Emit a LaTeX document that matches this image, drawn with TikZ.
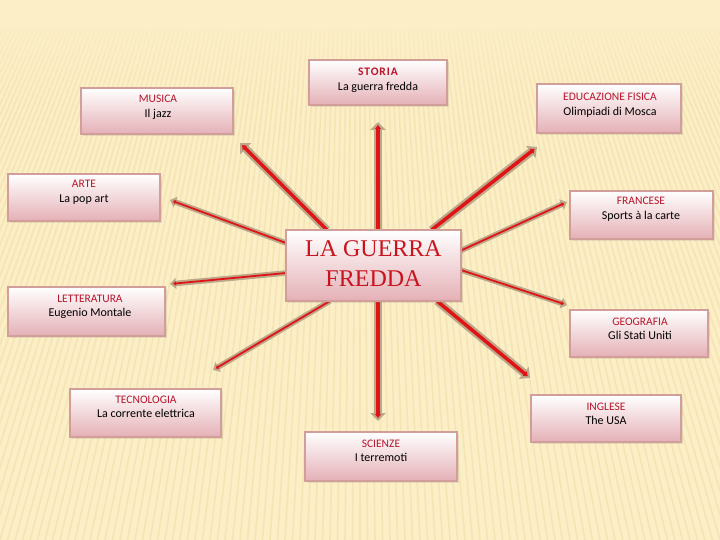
\documentclass[tikz,border=0pt]{standalone}
\usepackage{fontspec}
\setmainfont{Carlito}
\newfontfamily\centralserif{Liberation Serif}
\newfontfamily\spacedtitle[LetterSpace=8]{Carlito}
\usetikzlibrary{arrows.meta,fit,shadows,fadings}
\definecolor{bgcream}{HTML}{FCEEC6}
\definecolor{raycol}{HTML}{EFD89C}
\definecolor{boxborder}{HTML}{D19E9A}
\definecolor{boxpink}{HTML}{E4B0B6}
\definecolor{titlered}{HTML}{B8142A}
\definecolor{bigred}{HTML}{C8141E}
\definecolor{arrowred}{HTML}{E01414}
\definecolor{arrowtan}{HTML}{BCA78A}
\tikzset{
  topic/.style={draw=boxborder, line width=1.8pt, top color=white, bottom color=boxpink,
    inner sep=0pt, outer sep=0pt, drop shadow={opacity=0.18, shadow xshift=2pt, shadow yshift=-2pt}},
  ttl/.style={text=titlered, font=\fontsize{11.5}{13}\selectfont, inner sep=0pt, anchor=base},
  bdy/.style={text=black, font=\fontsize{12}{14}\selectfont, inner sep=0pt, anchor=base},
  thicktan/.style={draw=arrowtan, line width=8pt, -{Triangle[length=8pt 0 0,width=15pt 0 0]}},
  thickred/.style={draw=arrowred, line width=3.5pt, shorten >=3pt, -{Triangle[length=4pt 0 0,width=6pt 0 0]}},
  thintan/.style={draw=arrowtan, line width=5.5pt, -{Triangle[length=6pt 0 0,width=11pt 0 0]}},
  thinred/.style={draw=arrowred, line width=1.8pt, shorten >=3pt, -{Triangle[length=3pt 0 0,width=4pt 0 0]}},
}
\newcommand\connthick[2]{\draw[thicktan] #1 -- #2; \draw[thickred] #1 -- #2;}
\newcommand\connthin[2]{\draw[thintan] #1 -- #2; \draw[thinred] #1 -- #2;}
\newcommand\topicbox[9]{%
  \node[topic, fit={(#2,#3) (#4,#5)}] (#1) {};
  \node[ttl] (#1-t) at (#6,#7) {#8};
  \node[bdy] (#1-b) at (#6,#7+14.5) {#9};
}
\begin{document}
\begin{tikzpicture}[x=1pt,y=-1pt]
\useasboundingbox (0,0) rectangle (720,540);
\fill[bgcream] (0,0) rectangle (720,540);
\begin{scope}
  \clip (0,30) rectangle (720,540);
  \foreach \i in {-110,...,110}
    \draw[raycol, line width=1.6pt, opacity=0.45] (360,-700) -- (360+\i*7.5,540);
\end{scope}
\fill[bgcream, path fading=south] (0,0) rectangle (720,110);

% connector end points
\coordinate (tip-storia) at (378,122);
\coordinate (tip-musica) at (240,143);
\coordinate (tip-edu) at (537,147);
\coordinate (tip-fra) at (567,202);
\coordinate (tip-arte) at (170,200);
\coordinate (tip-lett) at (170,284);
\coordinate (tip-geo) at (567,305);
\coordinate (tip-ing) at (530,378);
\coordinate (tip-sci) at (378,421);
\coordinate (tip-tec) at (213,370);

% central node geometry
\path (286,230) coordinate (c-nw) (461,301) coordinate (c-se);
\node[inner sep=0pt, outer sep=0pt, fit=(c-nw)(c-se)] (cgeo) {};

\connthick{([xshift=4.5pt]cgeo.north)}{(tip-storia)}
\connthick{([xshift=-46.5pt]cgeo.north)}{(tip-musica)}
\connthick{([xshift=58pt]cgeo.north)}{(tip-edu)}
\connthin{([yshift=15pt]cgeo.east)}{(tip-fra)}
\connthin{([yshift=22.5pt]cgeo.west)}{(tip-arte)}
\connthin{([yshift=-7.5pt]cgeo.west)}{(tip-lett)}
\connthin{([yshift=-4.5pt]cgeo.east)}{(tip-geo)}
\connthick{([xshift=63.5pt]cgeo.south)}{(tip-ing)}
\connthick{([xshift=4.5pt]cgeo.south)}{(tip-sci)}
\connthin{([xshift=-43.5pt]cgeo.south)}{(tip-tec)}

\topicbox{storia}{309}{60}{447}{105}{378}{76}{{\spacedtitle\bfseries STORIA}}{La guerra fredda}
\topicbox{musica}{81}{88}{233}{134}{158}{103}{MUSICA}{Il jazz}
\topicbox{edu}{537}{84}{681}{133}{610}{101}{EDUCAZIONE FISICA}{Olimpiadi di Mosca}
\topicbox{arte}{8}{174}{160}{221}{84}{188}{ARTE}{La pop art}
\topicbox{fra}{570}{191}{713}{239}{641}{205}{FRANCESE}{Sports à la carte}
\topicbox{lett}{8}{287}{165}{336}{90}{302}{LETTERATURA}{Eugenio Montale}
\topicbox{geo}{570}{310}{708}{357}{640}{325}{GEOGRAFIA}{Gli Stati Uniti}
\topicbox{tec}{70}{389}{221}{437}{146}{403}{TECNOLOGIA}{La corrente elettrica}
\topicbox{ing}{531}{395}{681}{442}{606}{410}{INGLESE}{The USA}
\topicbox{sci}{305}{432}{457}{481}{381}{447}{SCIENZE}{I terremoti}

\node[topic, fit=(c-nw)(c-se)] (central) {};
\node[text=bigred, font=\centralserif\fontsize{24}{30}\selectfont, align=center, inner sep=0pt]
  (central-t) at (373.5,264) {LA GUERRA\\FREDDA};
\end{tikzpicture}
\end{document}
